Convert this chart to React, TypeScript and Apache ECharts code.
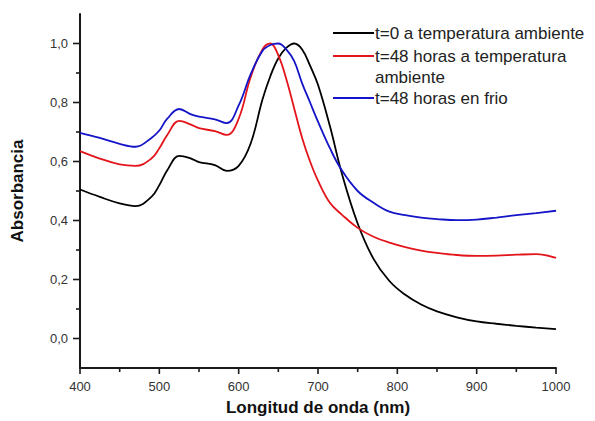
import React, { useEffect, useRef } from "react";
import * as echarts from "echarts";

const wavelengths = [400, 425, 450, 470, 490, 500, 510, 525, 540, 550, 570, 585, 600, 615, 630, 640, 650, 660, 670, 680, 690, 700, 715, 730, 750, 770, 790, 810, 830, 850, 875, 900, 925, 950, 975, 1000];

const blackValues = [0.505, 0.48, 0.458, 0.449, 0.48, 0.52, 0.57, 0.619, 0.61, 0.598, 0.588, 0.568, 0.585, 0.66, 0.81, 0.89, 0.95, 0.985, 1.0, 0.98, 0.925, 0.86, 0.72, 0.56, 0.39, 0.27, 0.195, 0.148, 0.115, 0.092, 0.072, 0.058, 0.05, 0.043, 0.037, 0.032];
const redValues = [0.635, 0.61, 0.59, 0.585, 0.61, 0.645, 0.69, 0.738, 0.725, 0.713, 0.703, 0.69, 0.745, 0.885, 0.98, 1.0, 0.96, 0.88, 0.78, 0.68, 0.6, 0.535, 0.46, 0.42, 0.375, 0.345, 0.325, 0.31, 0.298, 0.29, 0.283, 0.28, 0.281, 0.284, 0.286, 0.273];
const blueValues = [0.697, 0.68, 0.66, 0.65, 0.68, 0.705, 0.745, 0.778, 0.76, 0.752, 0.743, 0.73, 0.79, 0.895, 0.975, 0.995, 1.0, 0.98, 0.94, 0.865, 0.8, 0.735, 0.645, 0.57, 0.5, 0.46, 0.43, 0.418, 0.41, 0.405, 0.401, 0.403, 0.41, 0.418, 0.425, 0.433];

const seriesNames = ["t=0 a temperatura ambiente", "t=48 horas a temperatura\nambiente", "t=48 horas en frio"];
const seriesColors = ["#000000", "#e3151b", "#1414c8"];
const seriesValues = [blackValues, redValues, blueValues];

const xMajorTicks = [400, 500, 600, 700, 800, 900, 1000];
const xMinorTicks = [450, 550, 650, 750, 850, 950];
const yMajorTicks = [0, 0.2, 0.4, 0.6, 0.8, 1.0];
const yMinorTicks = [0.1, 0.3, 0.5, 0.7, 0.9];

const X_MIN = 400;
const X_MAX = 1000;
const Y_MIN = -0.1;
const Y_MAX = 1.1;

const FONT = "'Liberation Sans', Arial, sans-serif";
const TICK_COLOR = "#1a1a1a";

function tickSeries(kind: "x" | "y", values: number[], len: number) {
  return {
    type: "custom",
    silent: true,
    clip: false,
    z: 5,
    data: values.map((v) => (kind === "x" ? [v, Y_MIN] : [X_MIN, v])),
    renderItem: (_params: any, api: any) => {
      const p = api.coord([api.value(0), api.value(1)]);
      const shape =
        kind === "x"
          ? { x1: p[0], y1: p[1], x2: p[0], y2: p[1] + len }
          : { x1: p[0], y1: p[1], x2: p[0] - len, y2: p[1] };
      return { type: "line", shape, style: { stroke: TICK_COLOR, lineWidth: 1.6 } };
    },
  };
}

export default function App() {
  const ref = useRef<HTMLDivElement>(null);
  useEffect(() => {
    if (!ref.current) return;
    const chart = echarts.init(ref.current, null, { renderer: "svg" });
    const legendTop = [33, 56, 98];
    const graphic: any[] = [];
    seriesNames.forEach((name, i) => {
      graphic.push({
        type: "line",
        shape: { x1: 333, y1: legendTop[i], x2: 374, y2: legendTop[i] },
        style: { stroke: seriesColors[i], lineWidth: 1.8 },
      });
      graphic.push({
        type: "text",
        x: 375,
        y: legendTop[i] - 10,
        style: {
          text: name,
          font: `17px ${FONT}`,
          fill: "#222",
          lineHeight: 21,
          textVerticalAlign: "top",
        },
      });
    });
    const axisLineStyle = { color: "#1a1a1a", width: 2 };
    chart.setOption({
      animation: false,
      grid: { left: 80, right: 39, top: 14, bottom: 52 },
      xAxis: {
        type: "value",
        min: X_MIN,
        max: X_MAX,
        interval: 100,
        name: "Longitud de onda (nm)",
        nameLocation: "middle",
        nameGap: 31,
        nameTextStyle: { fontFamily: FONT, fontSize: 17, fontWeight: "bold", color: "#111" },
        axisLine: { show: true, onZero: false, lineStyle: axisLineStyle },
        axisTick: { show: false },
        minorTick: { show: false },
        axisLabel: { fontFamily: FONT, fontSize: 13, color: "#333", margin: 12, formatter: (v: number) => String(v) },
        splitLine: { show: false },
      },
      yAxis: {
        type: "value",
        min: Y_MIN,
        max: Y_MAX,
        interval: 0.1,
        name: "Absorbancia",
        nameLocation: "middle",
        nameGap: 54,
        nameRotate: 90,
        nameTextStyle: { fontFamily: FONT, fontSize: 17, fontWeight: "bold", color: "#111" },
        axisLine: { show: true, onZero: false, lineStyle: axisLineStyle },
        axisTick: { show: false },
        axisLabel: {
          fontFamily: FONT,
          fontSize: 13,
          color: "#333",
          margin: 12,
          customValues: yMajorTicks,
          formatter: (v: number) => v.toFixed(1).replace(".", ","),
        },
        splitLine: { show: false },
      },
      graphic,
      series: [
        ...seriesNames.map((name, i) => ({
          name,
          type: "line",
          showSymbol: false,
          smooth: 0.4,
          data: wavelengths.map((w, k) => [w, seriesValues[i][k]]),
          lineStyle: { color: seriesColors[i], width: 1.8 },
          itemStyle: { color: seriesColors[i] },
        })),
        tickSeries("x", xMajorTicks, 6),
        tickSeries("x", xMinorTicks, 4),
        tickSeries("y", yMajorTicks, 7),
        tickSeries("y", yMinorTicks, 4),
      ],
    });
    return () => chart.dispose();
  }, []);
  return <div ref={ref} style={{ width: 595, height: 421, position: "absolute", left: 0, top: 0 }} />;
}
